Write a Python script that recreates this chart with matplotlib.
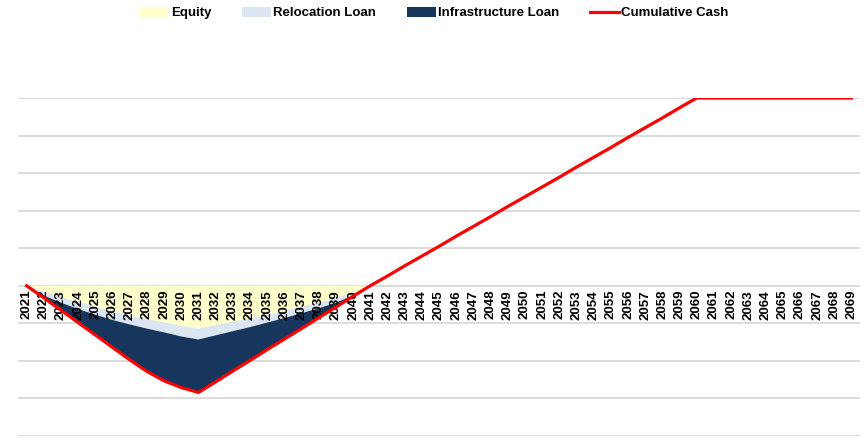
import numpy as np
import matplotlib.pyplot as plt

plt.rcParams['font.family'] = ['Liberation Sans', 'DejaVu Sans']

years = list(range(2021, 2070))

# cumulative cash (gridline spacing = 1 unit)
cum_cash = [0.00, -0.32, -0.65, -0.98, -1.31, -1.64, -1.97, -2.28, -2.53, -2.71,
            -2.84, -2.56, -2.27, -1.99, -1.70, -1.42, -1.14, -0.85, -0.57, -0.28,
            0.00, 0.26, 0.53, 0.79, 1.05, 1.32, 1.58, 1.84, 2.11, 2.37,
            2.63, 2.89, 3.16, 3.42, 3.68, 3.95, 4.21, 4.47, 4.74, 5.00,
            5.00, 5.00, 5.00, 5.00, 5.00, 5.00, 5.00, 5.00, 5.00]

# funding stack, 2021-2041
stack_years = years[:21]
equity = [0.00, -0.16, -0.30, -0.43, -0.56, -0.68, -0.79, -0.89, -0.98, -1.07,
          -1.14, -1.05, -0.96, -0.87, -0.77, -0.67, -0.56, -0.45, -0.33, -0.18, 0.00]
relocation = [0.00, -0.10, -0.15, -0.19, -0.21, -0.23, -0.24, -0.25, -0.26, -0.28,
              -0.29, -0.27, -0.25, -0.23, -0.21, -0.19, -0.17, -0.15, -0.12, -0.08, 0.00]
infrastructure = [0.00, -0.06, -0.20, -0.36, -0.54, -0.73, -0.94, -1.14, -1.29, -1.36,
                  -1.41, -1.24, -1.06, -0.89, -0.72, -0.56, -0.41, -0.25, -0.12, -0.02, 0.00]

c_eq = "#FFFFCC"
c_rel = "#DCE6F2"
c_inf = "#17365D"

fig = plt.figure(figsize=(8.68, 4.38), dpi=100)
ax = fig.add_axes([18/868, 2/438, 842/868, 338/438])

x_all = np.arange(len(years))
x_st = np.arange(len(stack_years))

for g in range(-4, 6):
    ax.axhline(g, color="#D9D9D9", lw=1.3, zorder=0)

ax.stackplot(x_st, equity, relocation, infrastructure,
             colors=[c_eq, c_rel, c_inf], labels=["Equity", "Relocation Loan", "Infrastructure Loan"],
             lw=0, zorder=1)
ax.plot(x_all, cum_cash, color="#FF0000", lw=2.3, label="Cumulative Cash", zorder=3)

# category axis crosses at zero (spine position resets ticks, so do it first)
ax.spines["bottom"].set_position(("data", 0))
for s in ax.spines.values():
    s.set_visible(False)

ax.set_xlim(-0.5, len(years) - 0.5)
ax.set_ylim(-4, 5)
ax.set_yticks([])
ax.set_xticks(x_all)
ax.set_xticklabels([str(y) for y in years], rotation=90, fontsize=9.5,
                   fontweight="bold", va="top", ha="center")
ax.tick_params(axis="x", length=0, pad=3)

fig.legend(loc="center", bbox_to_anchor=(0.5, 0.97), ncol=4, frameon=False,
           prop={"size": 9.5, "weight": "bold"}, handlelength=2.2, handleheight=0.8,
           handletextpad=0.2, columnspacing=2.3)

fig.savefig("out.png", dpi=100)
